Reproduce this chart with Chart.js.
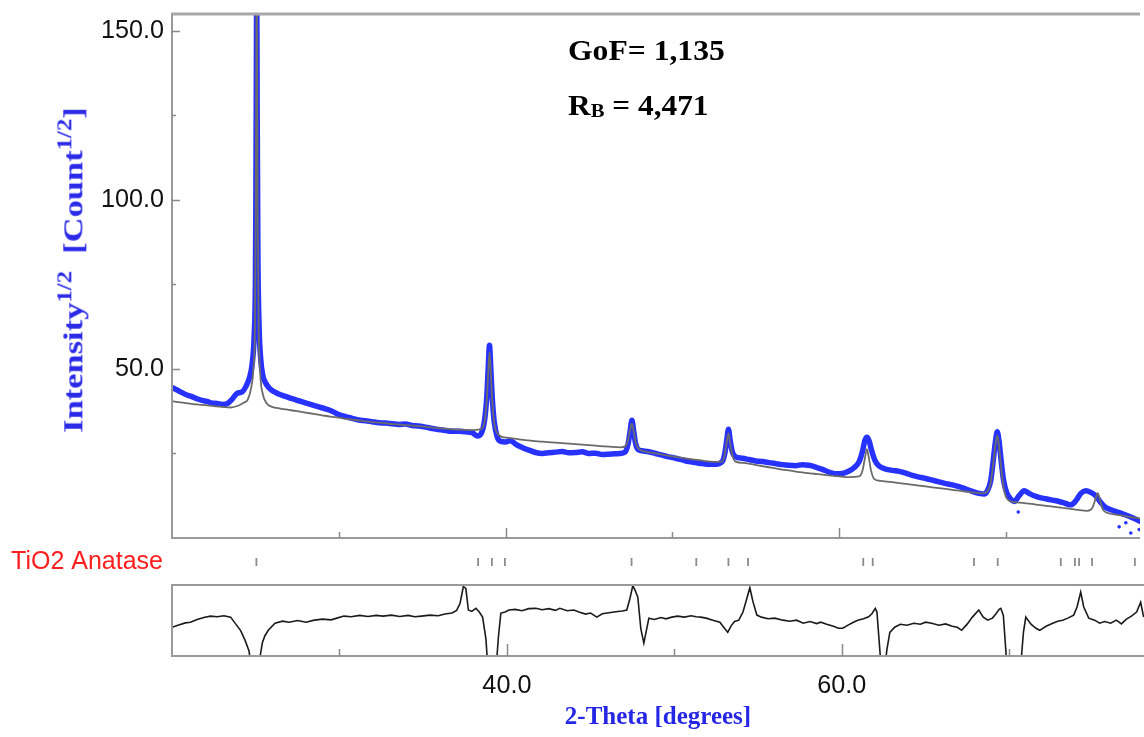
<!DOCTYPE html>
<html><head><meta charset="utf-8">
<script src="https://cdn.jsdelivr.net/npm/chart.js@4.4.1/dist/chart.umd.min.js"></script>
<style>
html,body{margin:0;padding:0;background:#fff;}
#wrap{position:relative;width:1144px;height:737px;overflow:hidden;background:#fff;}
#wrap canvas{position:absolute;left:0;}
.txt{position:absolute;white-space:nowrap;font-family:'Liberation Serif','Times New Roman',serif;font-weight:bold;line-height:1;}
#ytitle{font-size:28px;color:#2a2ae8;transform-origin:50% 50%;}
#ytitle sup{font-size:0.72em;position:relative;top:-0.55em;vertical-align:baseline;line-height:0;}
#gof,#rb{font-size:30px;color:#000;left:568px;transform-origin:0 50%;}
#gof{top:35px;}
#rb{top:90px;}
#rb sub{font-size:0.66em;position:relative;top:0.12em;vertical-align:baseline;line-height:0;}
</style></head><body>
<div id="wrap">
<canvas id="cMain" width="1144" height="548" style="top:0px;width:1144px;height:548px"></canvas>
<canvas id="cBragg" width="1144" height="44" style="top:540px;width:1144px;height:44px"></canvas>
<canvas id="cDiff" width="1144" height="159" style="top:578px;width:1144px;height:159px"></canvas>
<div id="ytitle" class="txt">Intensity<sup>1/2</sup>&nbsp;&nbsp;[Count<sup>1/2</sup>]</div>
<div id="gof" class="txt">GoF= 1,135</div>
<div id="rb" class="txt">R<sub>B</sub> = 4,471</div>
</div>
<script>
// ---------------- data ----------------
const X_MIN = 20.0, X_MAX = 78.05;

const obsTheta = [
  20.0, 20.3, 20.6, 20.9, 21.2, 21.5, 21.8, 22.1, 22.4, 22.7,
  23.0, 23.3, 23.6, 23.9, 24.2, 24.45, 24.65, 24.82, 24.93, 25.0,
  25.03, 25.06, 25.08, 25.11, 25.15, 25.22, 25.32, 25.45, 25.6, 25.8,
  26.0, 26.4, 26.8, 27.2, 27.6, 28.0, 28.4, 28.8, 29.2, 29.6,
  30.0, 30.4, 30.8, 31.2, 31.6, 32.0, 32.4, 32.8, 33.2, 33.6,
  34.0, 34.4, 34.8, 35.2, 35.6, 36.0, 36.4, 36.8, 37.2, 37.6,
  38.0, 38.3, 38.55, 38.75, 38.88, 38.97, 39.04, 39.11, 39.2, 39.32,
  39.5, 39.7, 40.0, 40.3, 40.6, 41.0, 41.4, 41.8, 42.2, 42.6,
  43.0, 43.4, 43.8, 44.2, 44.6, 45.0, 45.4, 45.8, 46.2, 46.6,
  47.0, 47.2, 47.35, 47.47, 47.58, 47.69, 47.8, 47.95, 48.2, 48.6,
  49.0, 49.4, 49.8, 50.2, 50.6, 51.0, 51.4, 51.8, 52.2, 52.6,
  53.0, 53.15, 53.27, 53.37, 53.47, 53.6, 53.8, 54.2, 54.6, 55.0,
  55.4, 55.8, 56.2, 56.6, 57.0, 57.4, 57.8, 58.2, 58.6, 59.0,
  59.4, 59.8, 60.2, 60.6, 60.9, 61.2, 61.4, 61.55, 61.67, 61.8,
  61.95, 62.15, 62.4, 62.8, 63.2, 63.6, 64.0, 64.4, 64.8, 65.2,
  65.6, 66.0, 66.4, 66.8, 67.2, 67.6, 68.0, 68.4, 68.7, 68.9,
  69.1, 69.25, 69.38, 69.49, 69.6, 69.72, 69.87, 70.05, 70.3, 70.5,
  70.8, 71.1, 71.4, 71.7, 72.0, 72.4, 72.8, 73.2, 73.6, 73.9,
  74.2, 74.5, 74.8, 75.1, 75.4, 75.7, 76.0, 76.4, 76.8, 77.2,
  77.6, 78.1
];
const obsIntensity = [
  44.5, 43.8, 43.0, 42.3, 41.8, 41.2, 40.7, 40.4, 39.9, 39.8,
  39.5, 39.7, 41.0, 42.8, 43.2, 45.0, 47.5, 52.0, 60.0, 75.0,
  100.0, 140.0, 165.0, 125.0, 85.0, 63.0, 53.0, 48.0, 46.0, 44.5,
  43.6, 42.6, 41.9, 41.2, 40.6, 40.0, 39.4, 38.8, 38.2, 37.5,
  36.5, 35.9, 35.4, 34.9, 34.7, 34.4, 34.1, 34.0, 33.8, 33.6,
  33.7, 33.3, 33.1, 32.8, 32.4, 32.1, 31.8, 31.6, 31.6, 31.4,
  31.2, 30.2, 31.0, 35.0, 42.0, 51.0, 57.0, 51.0, 42.0, 34.5,
  30.0, 28.6, 28.4, 28.8, 27.8, 26.8, 26.0, 25.3, 25.0, 25.2,
  25.4, 25.6, 25.2, 25.3, 25.5, 25.0, 25.1, 24.7, 24.8, 24.9,
  25.1, 25.6, 27.8, 31.5, 34.8, 31.5, 28.0, 26.2, 25.8, 25.5,
  25.0, 24.5, 24.0, 23.6, 23.1, 22.6, 22.3, 22.0, 21.8, 21.8,
  22.6, 25.0, 29.0, 32.2, 29.0, 25.5, 24.0, 23.6, 23.2, 22.8,
  22.6, 22.3, 22.0, 21.7, 21.5, 21.4, 21.7, 21.5, 21.0, 20.3,
  19.5, 19.0, 19.1, 19.8, 20.8, 22.5, 25.5, 28.8, 29.8, 28.8,
  26.0, 23.0, 21.3, 20.4, 20.0, 19.7, 19.2, 18.5, 18.0, 17.6,
  17.1, 16.6, 16.1, 15.7, 15.2, 14.5, 13.8, 13.2, 13.0, 14.0,
  17.0, 23.0, 28.5, 31.4, 28.5, 23.0, 17.0, 13.5, 11.5, 10.8,
  12.5, 14.0, 13.2, 12.5, 12.0, 11.6, 11.2, 10.8, 10.2, 9.8,
  11.0, 13.2, 14.0, 13.5, 12.5, 10.5, 9.0, 8.2, 7.5, 6.8,
  6.0, 4.8
];
const outlierTheta = [70.75, 76.8, 77.2, 77.5, 78.0];
const outlierIntensity = [7.7, 3.3, 4.5, 1.5, 2.5];

const calcTheta = [
  20.0, 20.5, 21.0, 21.5, 22.0, 22.5, 23.0, 23.5, 24.0, 24.3,
  24.55, 24.75, 24.88, 24.97, 25.02, 25.06, 25.08, 25.1, 25.14, 25.2,
  25.3, 25.45, 25.65, 26.0, 26.5, 27.0, 27.5, 28.0, 28.5, 29.0,
  29.5, 30.0, 30.5, 31.0, 31.5, 32.0, 32.5, 33.0, 33.5, 34.0,
  34.5, 35.0, 35.5, 36.0, 36.5, 37.0, 37.5, 38.0, 38.5, 38.75,
  38.88, 38.97, 39.04, 39.11, 39.2, 39.32, 39.5, 39.75, 40.2, 40.8,
  41.5, 42.2, 43.0, 43.8, 44.6, 45.4, 46.2, 46.9, 47.2, 47.35,
  47.47, 47.58, 47.69, 47.8, 47.95, 48.2, 48.8, 49.5, 50.2, 51.0,
  51.8, 52.5, 53.0, 53.15, 53.27, 53.37, 53.47, 53.6, 53.8, 54.3,
  55.0, 55.7, 56.4, 57.1, 57.8, 58.5, 59.2, 59.9, 60.6, 61.2,
  61.4, 61.55, 61.67, 61.78, 61.92, 62.1, 62.5, 63.2, 64.0, 64.8,
  65.6, 66.4, 67.2, 68.0, 68.6, 68.9, 69.1, 69.25, 69.38, 69.49,
  69.6, 69.72, 69.87, 70.05, 70.4, 71.0, 71.8, 72.6, 73.4, 74.2,
  74.9, 75.2, 75.38, 75.52, 75.65, 75.85, 76.3, 77.0, 77.6, 78.1
];
const calcIntensity = [
  40.5, 40.1, 39.8, 39.5, 39.3, 39.0, 38.8, 38.6, 39.2, 40.0,
  41.0, 44.5, 50.0, 62.0, 95.0, 150.0, 175.0, 150.0, 95.0, 62.0,
  48.0, 42.5, 40.0, 38.8, 38.3, 37.9, 37.5, 37.1, 36.7, 36.3,
  35.9, 35.6, 35.2, 34.9, 34.6, 34.3, 34.1, 33.8, 33.6, 33.4,
  33.2, 33.0, 32.7, 32.5, 32.3, 32.1, 32.0, 31.9, 32.2, 34.5,
  41.0, 49.5, 55.0, 49.5, 41.0, 34.0, 31.0, 30.0, 29.6, 29.2,
  28.8, 28.5, 28.2, 27.9, 27.6, 27.3, 27.0, 26.8, 27.2, 29.0,
  32.0, 33.8, 31.5, 28.5, 26.6, 25.8, 25.2, 24.6, 24.0, 23.4,
  22.9, 22.5, 22.6, 24.8, 28.5, 31.0, 28.0, 24.5, 22.6, 22.2,
  21.6, 21.0, 20.4, 19.9, 19.4, 19.0, 18.6, 18.3, 18.0, 18.2,
  19.8, 23.5, 26.3, 24.0, 20.0, 17.5, 16.9, 16.5, 16.0, 15.5,
  15.0, 14.5, 14.0, 13.5, 13.2, 13.8, 16.5, 22.0, 27.5, 30.3,
  27.0, 21.0, 15.0, 11.8, 10.7, 10.4, 9.9, 9.4, 8.9, 8.4,
  8.0, 9.0, 11.5, 13.3, 11.2, 8.2, 7.2, 6.6, 6.1, 5.8
];

const diffTheta = [
  20.0, 20.4, 20.8, 21.1, 21.5, 21.9, 22.3, 22.7, 23.1, 23.5,
  23.8, 24.1, 24.36, 24.6, 24.75, 24.95, 25.15, 25.25, 25.4, 25.55,
  25.75, 26.15, 26.6, 27.0, 27.5, 28.0, 28.5, 29.0, 29.5, 29.85,
  30.27, 30.7, 31.2, 31.7, 32.2, 32.6, 33.1, 33.6, 34.1, 34.5,
  34.9, 35.4, 35.9, 36.3, 36.72, 37.0, 37.2, 37.4, 37.55, 37.7,
  37.9, 38.15, 38.35, 38.55, 38.75, 38.87, 39.1, 39.35, 39.5, 39.64,
  39.9, 40.12, 40.5, 40.9, 41.3, 41.73, 42.1, 42.5, 42.9, 43.16,
  43.6, 44.0, 44.3, 44.7, 45.0, 45.37, 45.7, 46.1, 46.5, 46.9,
  47.16, 47.35, 47.52, 47.65, 47.82, 48.0, 48.18, 48.35, 48.48, 48.8,
  49.2, 49.5, 49.85, 50.2, 50.6, 51.0, 51.3, 51.58, 51.9, 52.3,
  52.72, 52.95, 53.19, 53.4, 53.6, 53.85, 54.1, 54.3, 54.51, 54.7,
  54.93, 55.2, 55.6, 56.0, 56.48, 56.9, 57.3, 57.7, 58.1, 58.5,
  58.75, 59.1, 59.5, 59.8, 60.06, 60.4, 60.7, 60.96, 61.3, 61.6,
  61.8, 62.0, 62.1, 62.3, 62.5, 62.7, 62.87, 63.16, 63.5, 63.9,
  64.3, 64.7, 65.0, 65.37, 65.8, 66.2, 66.6, 66.9, 67.16, 67.5,
  67.8, 68.0, 68.18, 68.45, 68.72, 69.0, 69.2, 69.4, 69.5, 69.65,
  69.85, 70.3, 70.7, 70.85, 70.99, 71.3, 71.6, 71.82, 72.2, 72.6,
  72.9, 73.19, 73.5, 73.85, 74.05, 74.27, 74.45, 74.75, 75.1, 75.4,
  75.7, 76.06, 76.4, 76.7, 77.0, 77.3, 77.61, 77.85, 78.03
];
const diffValue = [
  -1.5, -0.8, -0.2, 0.0, 0.8, 1.4, 1.8, 1.6, 1.9, 1.5,
  -0.5, -2.5, -5.3, -8.5, -14, -25, -25, -10.5, -6, -4,
  -2.4, -0.3, 0.3, 0.0, 0.5, 0.0, 0.6, 0.9, 0.7, 1.2,
  1.8, 1.6, 2.0, 1.7, 2.0, 1.8, 2.1, 1.7, 2.0, 1.6,
  1.8, 2.1, 1.9, 2.4, 2.7, 3.5, 5.5, 10.5, 10.0, 3.6,
  3.2, 4.1, 3.0, 1.5, -5, -14, -25, -14, -4, 2.7,
  3.0, 3.6, 3.8, 3.4, 4.0, 4.1, 3.7, 4.0, 3.5, 4.1,
  3.4, 3.6, 3.0, 2.4, 2.7, 1.5, 2.5, 2.8, 3.1, 3.3,
  3.6, 7.0, 10.8, 9.5, 7.4, -2, -6.2, -2, 1.2, 0.8,
  1.4, 1.0, 1.5, 1.8, 1.5, 1.9, 1.6, 1.5, 1.2, 0.6,
  0.0, -1.5, -3.0, -1.0, 0.2, 0.6, 3.0, 6.5, 10.2, 6.0,
  2.1, 1.5, 1.0, 1.2, 0.6, 0.3, 0.6, -0.3, 0.2, -0.4,
  0.0, -0.6, -1.2, -1.8, -1.8, -0.8, 0.0, 0.6, 1.0, 1.6,
  2.5, 4.1, 3.0, -10, -16, -8, -3, -1.5, -0.6, -0.9,
  -0.3, -0.6, 0.0, -0.3, -0.9, -0.5, -1.2, -1.5, -2.4, -0.5,
  1.5, 2.6, 3.6, 1.5, 0.6, 1.2, 2.4, 3.8, 4.1, 2.0,
  -12, -25, -12, -3, 1.5, -0.6, -1.8, -2.4, -1.2, -0.3,
  0.3, 0.6, 1.2, 2.1, 4.5, 8.9, 4.5, 1.2, 0.6, -0.3,
  0.2, -0.3, 0.6, -0.5, 0.9, 1.8, 3.0, 5.9, 1.5
];

const braggTheta = [25.07, 38.39, 39.22, 40.0, 47.61, 51.5, 53.43, 54.61, 61.53, 62.1,
                    68.18, 69.61, 73.4, 74.25, 74.5, 75.28, 77.85];
const phaseLabel = 'TiO2 Anatase';

const yLabelTicks = [50, 100, 150];
const yMajorTicks = [50, 100, 150];
const yMinorTicks = [25, 75, 125];
const xLabelTicks = [40, 60];
const xMajorTicks = [40, 60];
const xMinorTicks = [30, 50, 70];

// ---------------- helpers ----------------
const pts = (xs, ys) => xs.map((x, i) => ({x: x, y: ys[i]}));

function detectFont(cands) {
  const c = document.createElement('canvas').getContext('2d');
  const test = '150.0 40.0 TiO2 mmmwww';
  c.font = '40px monospace';
  const base = c.measureText(test).width;
  for (const f of cands) {
    c.font = `40px '${f}', monospace`;
    if (Math.abs(c.measureText(test).width - base) > 0.5) return f;
  }
  return null;
}
function sizeForWidth(family, text, target, maxSize) {
  const c = document.createElement('canvas').getContext('2d');
  c.font = `100px ${family}`;
  const s = target * 100 / c.measureText(text).width;
  return Math.min(maxSize, Math.round(s * 10) / 10);
}
const narrow = detectFont(['Liberation Sans Narrow', 'Arial Narrow']);
const tickFamily = narrow ? `'${narrow}', 'Liberation Sans', Arial, sans-serif` : `'Liberation Sans', Arial, sans-serif`;
const tickSize = sizeForWidth(tickFamily, '150.0', 63, 30);
const sansFamily = `'Liberation Sans', Arial, sans-serif`;
const serifFamily = `'Liberation Serif', 'Times New Roman', serif`;

const framePlugin = {
  id: 'frame',
  afterDatasetsDraw(chart, args, opts) {
    const {ctx, chartArea: a} = chart;
    ctx.save();
    (opts.sides || []).forEach(s => {
      ctx.strokeStyle = s.color; ctx.lineWidth = s.width;
      ctx.beginPath();
      if (s.side === 'top') { ctx.moveTo(a.left - 1, a.top); ctx.lineTo(a.right, a.top); }
      if (s.side === 'bottom') { ctx.moveTo(a.left - 1, a.bottom); ctx.lineTo(a.right, a.bottom); }
      if (s.side === 'left') { ctx.moveTo(a.left, a.top); ctx.lineTo(a.left, a.bottom); }
      ctx.stroke();
    });
    ctx.strokeStyle = opts.tickColor || '#888';
    ctx.lineWidth = 1.5;
    const xs = chart.scales.x, ys = chart.scales.y;
    (opts.xTicks || []).forEach(t => {
      t.values.forEach(v => {
        const px = Math.round(xs.getPixelForValue(v)) + 0.5;
        ctx.beginPath(); ctx.moveTo(px, a.bottom); ctx.lineTo(px, a.bottom - t.len); ctx.stroke();
      });
    });
    (opts.yTicks || []).forEach(t => {
      t.values.forEach(v => {
        const py = Math.round(ys.getPixelForValue(v)) + 0.5;
        ctx.beginPath(); ctx.moveTo(a.left, py); ctx.lineTo(a.left + t.len, py); ctx.stroke();
      });
    });
    ctx.restore();
  }
};

function fixedY(width) {
  return function (s) { s.width = width; s.paddingTop = 0; s.paddingBottom = 0; };
}

const frameColor = '#9a9a9a';

// ---------------- main panel ----------------
new Chart(document.getElementById('cMain'), {
  type: 'line',
  data: {
    datasets: [
      { label: 'Calculated', data: pts(calcTheta, calcIntensity), borderColor: '#6a6a6a', borderWidth: 1.8,
        pointRadius: 0, cubicInterpolationMode: 'monotone', clip: 0, order: 0 },
      { label: 'Observed', data: pts(obsTheta, obsIntensity), borderColor: 'rgba(16,28,255,0.9)', borderWidth: 5.5,
        pointRadius: 0, cubicInterpolationMode: 'monotone', clip: 0, order: 1 },
      { type: 'scatter', label: 'Observed (scatter)', data: pts(outlierTheta, outlierIntensity), pointRadius: 1.8,
        backgroundColor: 'rgba(16,28,255,0.9)', borderWidth: 0, clip: 0, order: 1 }
    ]
  },
  options: {
    responsive: false, animation: false, devicePixelRatio: 1, events: [],
    layout: { padding: { top: 14, bottom: 10, left: 0, right: 0 } },
    plugins: {
      legend: { display: false }, tooltip: { enabled: false },
      frame: {
        sides: [ { side: 'top', color: '#a8a8a8', width: 3 },
                 { side: 'left', color: frameColor, width: 2 },
                 { side: 'bottom', color: frameColor, width: 2 } ],
        tickColor: '#8a8a8a',
        xTicks: [ { values: xMajorTicks, len: 10 }, { values: xMinorTicks, len: 6 } ],
        yTicks: [ { values: yMajorTicks, len: 8 }, { values: yMinorTicks, len: 4 } ]
      }
    },
    scales: {
      x: { type: 'linear', min: X_MIN, max: X_MAX, display: false },
      y: { type: 'linear', min: 0, max: 155,
           grid: { display: false, drawTicks: false }, border: { display: false },
           afterFit: fixedY(172),
           afterBuildTicks: s => { s.ticks = yLabelTicks.map(v => ({ value: v })); },
           ticks: { padding: 8, color: '#111', font: { family: tickFamily, size: tickSize },
                    callback: v => Number(v).toFixed(1) } }
    }
  },
  plugins: [framePlugin]
});

// ---------------- Bragg positions strip ----------------
new Chart(document.getElementById('cBragg'), {
  type: 'scatter',
  data: {
    datasets: [ { label: phaseLabel, data: braggTheta.map(t => ({ x: t, y: 0.5 })), pointStyle: 'line',
                  rotation: 90, radius: 4, borderColor: '#8c8c8c', borderWidth: 1.8, clip: 0 } ]
  },
  options: {
    responsive: false, animation: false, devicePixelRatio: 1, events: [],
    layout: { padding: 0 },
    plugins: { legend: { display: false }, tooltip: { enabled: false } },
    scales: {
      x: { type: 'linear', min: X_MIN, max: X_MAX, display: false },
      y: { type: 'linear', min: 0, max: 1,
           grid: { display: false, drawTicks: false }, border: { display: false },
           afterFit: fixedY(172),
           afterBuildTicks: s => { s.ticks = [ { value: 0.5 } ]; },
           ticks: { padding: 9, color: '#ff1e1e', font: { family: sansFamily, size: 25 },
                    callback: () => phaseLabel } }
    }
  }
});

// ---------------- difference panel ----------------
new Chart(document.getElementById('cDiff'), {
  type: 'line',
  data: {
    datasets: [ { label: 'Difference', data: pts(diffTheta, diffValue), borderColor: '#1a1a1a', borderWidth: 1.6,
                  pointRadius: 0, tension: 0, clip: 0 } ]
  },
  options: {
    responsive: false, animation: false, devicePixelRatio: 1, events: [],
    layout: { padding: { top: 7, bottom: 0, left: 0, right: 0 } },
    plugins: {
      legend: { display: false }, tooltip: { enabled: false },
      frame: {
        sides: [ { side: 'top', color: frameColor, width: 2 },
                 { side: 'left', color: frameColor, width: 2 },
                 { side: 'bottom', color: frameColor, width: 2 } ],
        tickColor: '#8a8a8a',
        xTicks: [ { values: xMajorTicks, len: 12 }, { values: xMinorTicks, len: 7 } ]
      }
    },
    scales: {
      x: { type: 'linear', min: X_MIN, max: X_MAX, position: 'bottom',
           grid: { display: false, drawTicks: false }, border: { display: false },
           afterFit: s => { s.height = 81; s.paddingLeft = 0; s.paddingRight = 0; },
           afterBuildTicks: s => { s.ticks = xLabelTicks.map(v => ({ value: v })); },
           ticks: { padding: Math.round(30 - 0.6 * tickSize), color: '#111', maxRotation: 0,
                    font: { family: tickFamily, size: tickSize }, callback: v => Number(v).toFixed(1) },
           title: { display: true, text: '2-Theta [degrees]', color: '#2626e6',
                    font: { family: serifFamily, size: 25, weight: 'bold' }, padding: { top: 0, bottom: 4 } } },
      y: { type: 'linear', min: -10, max: 11,
           grid: { display: false, drawTicks: false }, border: { display: false },
           afterFit: fixedY(172),
           ticks: { display: false } }
    }
  },
  plugins: [framePlugin]
});

// ---------------- HTML text overlays ----------------
function fitWidth(el, target) {
  const w = el.offsetWidth;
  return target / w;
}
(function placeTexts() {
  const yt = document.getElementById('ytitle');
  const w = yt.offsetWidth, h = yt.offsetHeight;
  const s = 326 / w;
  yt.style.left = (73 - w / 2) + 'px';
  yt.style.top = (270 - h / 2) + 'px';
  yt.style.transform = `rotate(-90deg) scaleX(${s.toFixed(3)})`;
  const g = document.getElementById('gof');
  g.style.transform = `scaleX(${fitWidth(g, 157).toFixed(3)})`;
  const r = document.getElementById('rb');
  r.style.transform = `scaleX(${fitWidth(r, 140).toFixed(3)})`;
})();
</script>
</body></html>
